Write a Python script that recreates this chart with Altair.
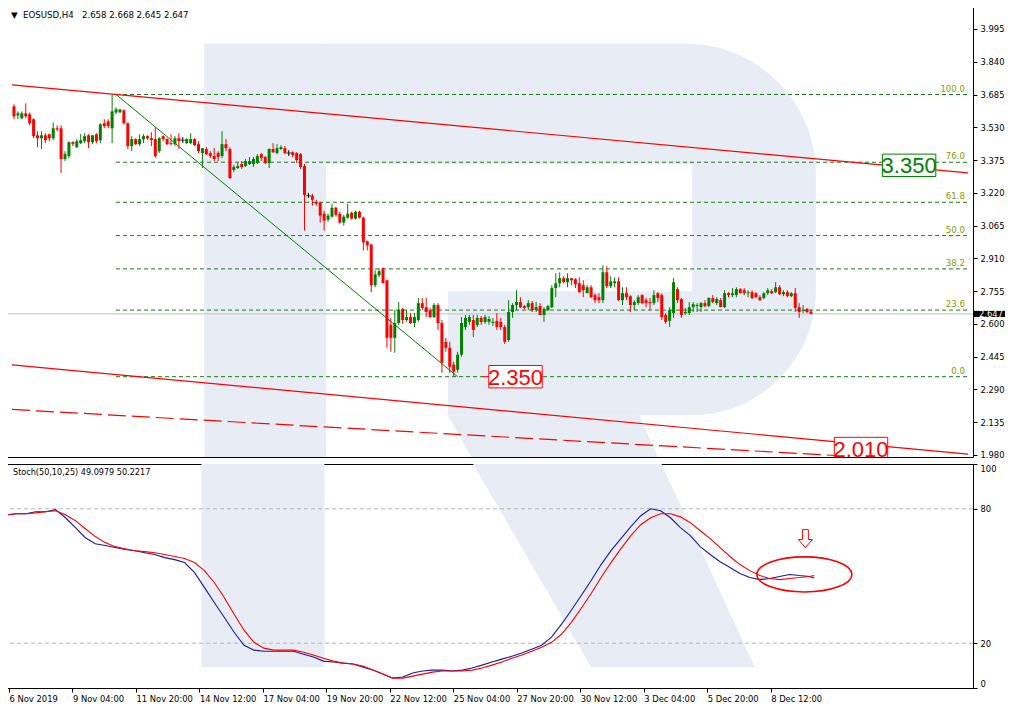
import json
import altair as alt
import pandas as pd

# ---------------- data ----------------
opens = [
    3.629, 3.586, 3.572, 3.596, 3.591, 3.568, 3.492, 3.478, 3.492, 3.497,
    3.478, 3.525, 3.525, 3.380, 3.394, 3.459, 3.436, 3.455, 3.464, 3.492,
    3.459, 3.497, 3.469, 3.549, 3.558, 3.525, 3.600, 3.600, 3.610, 3.549,
    3.441, 3.474, 3.450, 3.474, 3.488, 3.478, 3.474, 3.417, 3.488, 3.474,
    3.455, 3.450, 3.478, 3.469, 3.455, 3.455, 3.474, 3.450, 3.408, 3.427,
    3.408, 3.394, 3.408, 3.394, 3.450, 3.427, 3.328, 3.337, 3.356, 3.347,
    3.356, 3.356, 3.361, 3.403, 3.389, 3.361, 3.427, 3.408, 3.427, 3.431,
    3.408, 3.412, 3.408, 3.403, 3.347, 3.206, 3.206, 3.177, 3.173, 3.121,
    3.093, 3.107, 3.149, 3.121, 3.079, 3.102, 3.126, 3.098, 3.130, 3.102,
    2.990, 2.975, 2.783, 2.830, 2.862, 2.806, 2.595, 2.534, 2.604, 2.670,
    2.618, 2.632, 2.604, 2.618, 2.698, 2.679, 2.665, 2.632, 2.689, 2.604,
    2.515, 2.487, 2.407, 2.383, 2.454, 2.585, 2.609, 2.618, 2.595, 2.628,
    2.609, 2.609, 2.604, 2.614, 2.609, 2.585, 2.524, 2.656, 2.689, 2.703,
    2.684, 2.679, 2.698, 2.665, 2.684, 2.642, 2.665, 2.679, 2.769, 2.792,
    2.816, 2.797, 2.816, 2.811, 2.792, 2.783, 2.745, 2.773, 2.736, 2.726,
    2.712, 2.844, 2.778, 2.792, 2.801, 2.712, 2.745, 2.731, 2.689, 2.698,
    2.736, 2.712, 2.703, 2.698, 2.745, 2.736, 2.642, 2.614, 2.651, 2.764,
    2.717, 2.651, 2.651, 2.679, 2.684, 2.679, 2.698, 2.684, 2.722, 2.698,
    2.712, 2.679, 2.745, 2.736, 2.736, 2.764, 2.759, 2.745, 2.750, 2.745,
    2.726, 2.722, 2.745, 2.755, 2.750, 2.773, 2.740, 2.750, 2.731, 2.745,
    2.679, 2.661, 2.670, 2.658,
]
highs = [
    3.638, 3.605, 3.605, 3.643, 3.600, 3.572, 3.511, 3.511, 3.502, 3.497,
    3.553, 3.539, 3.539, 3.417, 3.464, 3.464, 3.474, 3.497, 3.502, 3.497,
    3.492, 3.502, 3.549, 3.568, 3.568, 3.685, 3.624, 3.615, 3.615, 3.553,
    3.488, 3.478, 3.497, 3.497, 3.492, 3.506, 3.530, 3.483, 3.492, 3.478,
    3.497, 3.488, 3.502, 3.483, 3.478, 3.502, 3.478, 3.464, 3.431, 3.436,
    3.417, 3.431, 3.417, 3.511, 3.474, 3.436, 3.351, 3.361, 3.370, 3.380,
    3.389, 3.389, 3.403, 3.408, 3.394, 3.431, 3.455, 3.450, 3.445, 3.441,
    3.422, 3.417, 3.412, 3.408, 3.356, 3.220, 3.215, 3.187, 3.177, 3.135,
    3.121, 3.168, 3.154, 3.130, 3.116, 3.168, 3.130, 3.135, 3.135, 3.107,
    2.994, 2.980, 2.853, 2.862, 2.867, 2.806, 2.628, 2.665, 2.703, 2.675,
    2.665, 2.651, 2.651, 2.722, 2.722, 2.722, 2.675, 2.698, 2.698, 2.618,
    2.534, 2.515, 2.421, 2.468, 2.632, 2.642, 2.642, 2.642, 2.642, 2.637,
    2.642, 2.637, 2.628, 2.651, 2.628, 2.595, 2.712, 2.698, 2.759, 2.726,
    2.689, 2.712, 2.708, 2.703, 2.698, 2.679, 2.689, 2.783, 2.839, 2.844,
    2.825, 2.839, 2.816, 2.816, 2.820, 2.806, 2.783, 2.783, 2.745, 2.745,
    2.877, 2.872, 2.825, 2.820, 2.820, 2.773, 2.773, 2.736, 2.712, 2.736,
    2.740, 2.722, 2.722, 2.759, 2.750, 2.745, 2.651, 2.679, 2.816, 2.773,
    2.722, 2.675, 2.703, 2.703, 2.698, 2.703, 2.712, 2.726, 2.736, 2.726,
    2.722, 2.759, 2.750, 2.769, 2.773, 2.769, 2.769, 2.759, 2.759, 2.750,
    2.736, 2.750, 2.769, 2.764, 2.797, 2.783, 2.759, 2.759, 2.750, 2.769,
    2.698, 2.689, 2.675, 2.668,
]
lows = [
    3.568, 3.568, 3.568, 3.572, 3.539, 3.478, 3.436, 3.427, 3.455, 3.464,
    3.469, 3.511, 3.314, 3.370, 3.384, 3.441, 3.431, 3.450, 3.455, 3.431,
    3.450, 3.455, 3.455, 3.525, 3.525, 3.455, 3.591, 3.600, 3.544, 3.427,
    3.417, 3.445, 3.441, 3.455, 3.469, 3.441, 3.384, 3.408, 3.464, 3.445,
    3.445, 3.441, 3.427, 3.455, 3.450, 3.450, 3.441, 3.408, 3.337, 3.398,
    3.384, 3.370, 3.370, 3.384, 3.417, 3.285, 3.318, 3.333, 3.333, 3.342,
    3.351, 3.342, 3.356, 3.370, 3.356, 3.337, 3.408, 3.403, 3.422, 3.403,
    3.394, 3.389, 3.361, 3.333, 3.041, 3.196, 3.159, 3.159, 3.079, 3.041,
    3.083, 3.102, 3.107, 3.074, 3.065, 3.098, 3.093, 3.093, 3.098, 2.947,
    2.947, 2.750, 2.773, 2.820, 2.792, 2.487, 2.468, 2.463, 2.595, 2.600,
    2.609, 2.600, 2.585, 2.609, 2.665, 2.632, 2.628, 2.628, 2.571, 2.369,
    2.468, 2.369, 2.350, 2.369, 2.444, 2.571, 2.595, 2.538, 2.585, 2.595,
    2.600, 2.595, 2.590, 2.571, 2.571, 2.505, 2.515, 2.628, 2.665, 2.675,
    2.670, 2.665, 2.656, 2.656, 2.642, 2.609, 2.661, 2.675, 2.726, 2.773,
    2.792, 2.773, 2.783, 2.769, 2.745, 2.726, 2.745, 2.722, 2.698, 2.698,
    2.698, 2.769, 2.769, 2.773, 2.708, 2.689, 2.712, 2.656, 2.665, 2.689,
    2.693, 2.679, 2.665, 2.689, 2.703, 2.618, 2.600, 2.585, 2.628, 2.698,
    2.628, 2.642, 2.642, 2.656, 2.656, 2.656, 2.679, 2.679, 2.698, 2.689,
    2.679, 2.675, 2.726, 2.726, 2.726, 2.745, 2.736, 2.726, 2.717, 2.722,
    2.708, 2.717, 2.736, 2.740, 2.745, 2.736, 2.731, 2.726, 2.726, 2.656,
    2.628, 2.651, 2.651, 2.645,
]
closes = [
    3.582, 3.596, 3.596, 3.582, 3.549, 3.488, 3.478, 3.492, 3.469, 3.478,
    3.525, 3.520, 3.380, 3.403, 3.459, 3.450, 3.464, 3.469, 3.488, 3.459,
    3.492, 3.464, 3.544, 3.535, 3.535, 3.605, 3.615, 3.615, 3.549, 3.441,
    3.474, 3.450, 3.474, 3.488, 3.478, 3.469, 3.394, 3.478, 3.474, 3.450,
    3.450, 3.478, 3.464, 3.469, 3.474, 3.474, 3.445, 3.417, 3.431, 3.403,
    3.394, 3.380, 3.389, 3.450, 3.431, 3.290, 3.342, 3.347, 3.342, 3.370,
    3.370, 3.380, 3.394, 3.384, 3.361, 3.427, 3.412, 3.431, 3.436, 3.408,
    3.408, 3.398, 3.375, 3.342, 3.210, 3.206, 3.187, 3.168, 3.112, 3.088,
    3.112, 3.149, 3.116, 3.079, 3.107, 3.121, 3.098, 3.130, 3.102, 2.985,
    2.971, 2.783, 2.834, 2.849, 2.792, 2.534, 2.534, 2.604, 2.665, 2.618,
    2.632, 2.604, 2.632, 2.698, 2.675, 2.656, 2.632, 2.689, 2.604, 2.416,
    2.487, 2.397, 2.374, 2.454, 2.604, 2.628, 2.632, 2.571, 2.628, 2.609,
    2.632, 2.623, 2.609, 2.585, 2.585, 2.515, 2.656, 2.689, 2.703, 2.679,
    2.675, 2.698, 2.665, 2.679, 2.642, 2.670, 2.684, 2.769, 2.792, 2.816,
    2.797, 2.816, 2.806, 2.787, 2.750, 2.759, 2.773, 2.726, 2.712, 2.712,
    2.844, 2.778, 2.801, 2.801, 2.712, 2.745, 2.726, 2.689, 2.703, 2.726,
    2.698, 2.698, 2.698, 2.736, 2.722, 2.632, 2.609, 2.665, 2.797, 2.712,
    2.642, 2.656, 2.679, 2.693, 2.689, 2.698, 2.684, 2.722, 2.703, 2.717,
    2.679, 2.745, 2.736, 2.745, 2.764, 2.745, 2.745, 2.750, 2.722, 2.726,
    2.712, 2.745, 2.759, 2.745, 2.773, 2.740, 2.750, 2.731, 2.745, 2.675,
    2.656, 2.665, 2.656, 2.647,
]

x_tick_bars = [0, 16, 32, 48, 64, 80, 96, 112, 128, 144, 160, 176, 192]
x_tick_labels = ["6 Nov 2019", "9 Nov 04:00", "11 Nov 20:00", "14 Nov 12:00",
                 "17 Nov 04:00", "19 Nov 20:00", "22 Nov 12:00", "25 Nov 04:00",
                 "27 Nov 20:00", "30 Nov 12:00", "3 Dec 04:00", "5 Dec 20:00",
                 "8 Dec 12:00"]
price_ticks = [3.995, 3.840, 3.685, 3.530, 3.375, 3.220, 3.065, 2.910,
               2.755, 2.600, 2.445, 2.290, 2.135, 1.980]
stoch_ticks = [0, 20, 80, 100]
stoch_levels = [20, 80]

fib_ratios = [100.0, 76.0, 61.8, 50.0, 38.2, 23.6, 0.0]
fib_high, fib_low = 3.685, 2.350
fib_start_bar, fib_end_bar = 26, 113

trend_bars = [-0.5, 243.0]
trend_upper = [3.731, 3.314]
trend_lower = [2.406, 1.984]
trend_dashed = [2.195, 1.942]

stoch_bars = [-0.5] + [1.75 + 2.5 * k for k in range(81)] + [203.0]
stoch_main = [
    77.3, 77.8, 77.8, 78.7, 78.7, 79.6, 76.0, 71.6, 67.1, 64.4,
    63.6, 62.7, 61.8, 61.3, 60.4, 59.6, 58.2, 57.3, 56.0, 51.6,
    44.9, 38.2, 31.6, 24.9, 19.1, 16.9, 16.4, 16.4, 16.4, 16.4,
    15.1, 13.8, 12.0, 11.6, 11.1, 10.7, 9.3, 8.0, 6.2, 4.4,
    4.9, 6.7, 7.6, 8.0, 8.0, 7.6, 8.0, 8.9, 10.2, 11.6,
    12.9, 14.2, 15.6, 17.3, 19.1, 22.7, 28.4, 34.7, 41.3, 48.0,
    55.1, 61.3, 66.7, 72.0, 76.9, 80.0, 79.1, 76.0, 71.6, 68.0,
    63.1, 59.6, 56.4, 53.8, 51.1, 49.3, 48.4, 48.9, 49.8, 50.7,
    50.2, 49.8, 49.1,
]
stoch_signal = [
    77.3, 77.8, 77.8, 78.2, 78.7, 79.1, 77.3, 74.7, 71.1, 67.6,
    64.9, 63.1, 62.2, 61.3, 60.9, 60.4, 59.6, 58.7, 57.8, 56.0,
    52.4, 47.1, 40.4, 32.9, 25.8, 20.4, 17.8, 16.9, 16.9, 16.9,
    16.0, 14.7, 13.3, 12.0, 11.1, 10.7, 9.8, 8.0, 6.2, 4.4,
    4.4, 5.3, 6.2, 7.1, 7.6, 7.6, 7.6, 8.0, 8.9, 10.2,
    11.6, 13.3, 14.7, 16.4, 18.2, 20.4, 24.0, 29.3, 35.6, 42.2,
    49.3, 56.0, 62.2, 68.0, 72.9, 76.0, 77.8, 77.8, 76.4, 73.8,
    70.2, 66.7, 62.7, 58.7, 55.1, 52.4, 50.2, 48.9, 48.4, 48.9,
    49.3, 49.8, 50.2,
]

label_texts = ["3.350", "2.350", "2.010"]
label_values = [3.350, 2.350, 2.010]
label_bars = [228.0, 127.75, 215.75]
label_colors = ["#008000", "#ff0000", "#ff0000"]

last_price = 2.647
title_main = "\u25bc\u00a0\u00a0EOSUSD,H4\u00a0\u00a0\u00a02.658 2.668 2.645 2.647"
title_stoch = "Stoch(50,10,25) 49.0979 50.2217"
ellipse_bar, ellipse_value = 200.5, 50.7
arrow_bar, arrow_value = 200.75, 66.7

# watermark logo pieces (bar, price) / (bar, stoch)
bowl_box = [48.5, 204.25, 3.925, 2.167]
stem_box = [48.5, 79.5, 3.925, 1.970]
hole_box = [79.5, 172.75, 3.356, 2.754]
gap_box = [79.5, 110.5, 2.754, 2.167]
leg_main_bars = [110.5, 116.5, 159.25, 164.0]
leg_main_top = [2.167, 2.167, 2.167, 1.970]
leg_main_bottom = [2.167, 1.970, 1.970, 1.970]
stoch_stem = [48.5, 79.5, 100.0, 9.3]
leg_bars = [117.0, 146.75, 164.5, 188.0]
leg_top = [100.0, 100.0, 100.0, 9.3]
leg_bottom = [100.0, 9.3, 9.3, 9.3]

# ---------------- styling ----------------
W, HM, HS = 966, 450, 224
FONT = "DejaVu Sans"
AXFS = 8.4
BIGFONT = "Liberation Sans Narrow, Liberation Sans"
GREEN, RED = "#008000", "#ff0000"
LOGO = "#e8edf5"
FIB = "#1a7a1a"
FIBTXT = "#8a9a00"

xsc = alt.Scale(domain=[-0.5, 243.0], nice=False, zero=False)
psc = alt.Scale(domain=[1.970, 4.099], nice=False, zero=False)
ssc = alt.Scale(domain=[0, 100], nice=False, zero=False)

p_axis = alt.Axis(orient="right", values=price_ticks, format=".3f", title=None,
                  grid=False, tickSize=4, labelPadding=3, domain=False)
s_axis = alt.Axis(orient="right", values=stoch_ticks, format="d", title=None,
                  grid=False, tickSize=4, labelPadding=3, domain=False,
                  labelFlush=True)
labels_js = json.dumps(x_tick_labels)
x_axis = alt.Axis(values=x_tick_bars, labelExpr=f"{labels_js}[round(datum.value / 16)]",
                  title=None, grid=False, tickSize=4, labelAlign="left",
                  labelPadding=2, domain=False, labelFlush=False)


def XM(field="bar"):
    return alt.X(f"{field}:Q", scale=xsc, axis=None)


def XS(field="bar"):
    return alt.X(f"{field}:Q", scale=xsc, axis=x_axis)


def P(field):
    return alt.Y(f"{field}:Q", scale=psc, axis=p_axis)


def S(field):
    return alt.Y(f"{field}:Q", scale=ssc, axis=s_axis)


def box_df(b):
    return pd.DataFrame({"x1": [b[0]], "x2": [b[1]], "y1": [b[2]], "y2": [b[3]]})


# ---------------- main panel ----------------
bowl = alt.Chart(box_df(bowl_box)).mark_rect(
    color=LOGO, cornerRadiusTopRight=130, cornerRadiusBottomRight=125, clip=True
).encode(x=XM("x1"), x2="x2:Q", y=P("y1"), y2="y2:Q")
stem = alt.Chart(box_df(stem_box)).mark_rect(color=LOGO, clip=True).encode(
    x=XM("x1"), x2="x2:Q", y=P("y1"), y2="y2:Q")
hole = alt.Chart(box_df(hole_box)).mark_rect(color="white", clip=True).encode(
    x=XM("x1"), x2="x2:Q", y=P("y1"), y2="y2:Q")
gap = alt.Chart(box_df(gap_box)).mark_rect(color="white", clip=True).encode(
    x=XM("x1"), x2="x2:Q", y=P("y1"), y2="y2:Q")
leg_main = alt.Chart(pd.DataFrame({"bar": leg_main_bars, "top": leg_main_top,
                                   "bottom": leg_main_bottom})
                     ).mark_area(color=LOGO, clip=True, opacity=1).encode(
    x=XM(), y=P("top"), y2="bottom:Q")

price_line = alt.Chart(pd.DataFrame({"price": [last_price]})).mark_rule(
    color="#c0c0c0", strokeWidth=1).encode(y=P("price"))

fdf = pd.DataFrame({"ratio": fib_ratios})
fdf["price"] = fib_low + fdf["ratio"] / 100.0 * (fib_high - fib_low)
fdf["x1"] = fib_start_bar
fdf["x2"] = 243.0
fdf["label"] = [f"{r:.1f}" for r in fib_ratios]
fib_lines = alt.Chart(fdf).mark_rule(color=FIB, strokeDash=[4, 3], strokeWidth=1).encode(
    x=XM("x1"), x2="x2:Q", y=P("price"))
fib_text = alt.Chart(fdf).mark_text(align="right", baseline="bottom", dx=-3, dy=-1,
                                    font=FONT, fontSize=8.6, color=FIBTXT).encode(
    x=XM("x2"), y=P("price"), text="label:N")
diag = alt.Chart(pd.DataFrame({"bar": [fib_start_bar, fib_end_bar], "price": [fib_high, fib_low]})
                 ).mark_line(color=GREEN, strokeWidth=1).encode(x=XM(), y=P("price"))

tdf = pd.DataFrame({"bar": trend_bars * 2, "price": trend_upper + trend_lower,
                    "line": ["u", "u", "l", "l"]})
trend_solid = alt.Chart(tdf).mark_line(color=RED, strokeWidth=1.2, clip=True).encode(
    x=XM(), y=P("price"), detail="line:N")
trend_dash = alt.Chart(pd.DataFrame({"bar": trend_bars, "price": trend_dashed})).mark_line(
    color=RED, strokeWidth=1.2, strokeDash=[18, 6], clip=True).encode(x=XM(), y=P("price"))

cdf = pd.DataFrame({"bar": list(range(len(opens))), "open": opens, "high": highs,
                    "low": lows, "close": closes})
cdf["col"] = [GREEN if c > o else (RED if c < o else "#000000") for o, c in zip(opens, closes)]
cdf["doji"] = [o == c for o, c in zip(opens, closes)]
wicks = alt.Chart(cdf).mark_rule(strokeWidth=1).encode(
    x=XM(), y=P("low"), y2="high:Q", color=alt.Color("col:N", scale=None))
bodies = alt.Chart(cdf).transform_filter("!datum.doji").mark_bar(size=3).encode(
    x=XM(), y=P("open"), y2="close:Q", color=alt.Color("col:N", scale=None))
dojis = alt.Chart(cdf).transform_filter("datum.doji").mark_tick(
    orient="horizontal", size=5, thickness=1, color="black").encode(x=XM(), y=P("open"))

ldf = pd.DataFrame({"text": label_texts, "price": label_values, "bar": label_bars,
                    "col": label_colors})
ldf["x1"] = ldf["bar"] - 6.8
ldf["x2"] = ldf["bar"] + 6.8
ldf["y1"] = ldf["price"] - 0.053
ldf["y2"] = ldf["price"] + 0.053
pointer = alt.Chart(ldf.iloc[[1]]).mark_rule(color=RED, strokeWidth=1).encode(
    x=alt.X("p1:Q", scale=xsc, axis=None), x2="x1:Q", y=P("price")
).transform_calculate(p1="datum.x1 - 1.6")
boxes = alt.Chart(ldf).mark_rect(fill="white", strokeWidth=1, clip=True).encode(
    x=XM("x1"), x2="x2:Q", y=P("y1"), y2="y2:Q", stroke=alt.Stroke("col:N", scale=None))
box_text = alt.Chart(ldf).mark_text(font=BIGFONT, fontSize=22, align="center",
                                    baseline="middle", clip=True, dy=1).encode(
    x=XM("bar"), y=P("price"), text="text:N", color=alt.Color("col:N", scale=None))

cur_box = alt.Chart(pd.DataFrame({"price": [last_price]})).mark_rect(color="black").encode(
    x=alt.value(W + 1), x2=alt.value(W + 32), y=P("y1"), y2="y2:Q"
).transform_calculate(y1="datum.price - 0.0145", y2="datum.price + 0.0145")
cur_text = alt.Chart(pd.DataFrame({"price": [last_price], "t": ["2.647"]})).mark_text(
    color="white", align="left", baseline="middle", font=FONT, fontSize=AXFS).encode(
    x=alt.value(W + 6), y=P("price"), text="t:N")

main_title = alt.Chart(pd.DataFrame({"t": [title_main]})).mark_text(
    align="left", baseline="middle", font=FONT, fontSize=8.6, color="black").encode(
    x=alt.value(4), y=alt.value(8), text="t:N")

main = alt.layer(
    bowl, stem, leg_main, hole, gap, price_line, fib_lines, fib_text, diag,
    trend_solid, trend_dash, wicks, bodies, dojis, pointer, boxes, box_text,
    cur_box, cur_text, main_title,
).properties(width=W, height=HM)

# ---------------- stochastic panel ----------------
stem_s = alt.Chart(box_df(stoch_stem)).mark_rect(color=LOGO, clip=True).encode(
    x=XS("x1"), x2="x2:Q", y=S("y1"), y2="y2:Q")
leg_s = alt.Chart(pd.DataFrame({"bar": leg_bars, "top": leg_top, "bottom": leg_bottom})
                  ).mark_area(color=LOGO, clip=True, opacity=1).encode(
    x=XS(), y=S("top"), y2="bottom:Q")
levels = alt.Chart(pd.DataFrame({"v": stoch_levels})).mark_rule(
    color="#b4b4b4", strokeDash=[4, 3], strokeWidth=1).encode(y=S("v"))
sdf = pd.DataFrame({"bar": stoch_bars, "main": stoch_main, "signal": stoch_signal})
blue = alt.Chart(sdf).mark_line(color="#1a1a9c", strokeWidth=1.1).encode(x=XS(), y=S("main"))
red = alt.Chart(sdf).mark_line(color=RED, strokeWidth=1.1).encode(x=XS(), y=S("signal"))
ellipse_path = ("M -1 0 C -1 -0.2043 -0.5523 -0.37 0 -0.37 C 0.5523 -0.37 1 -0.2043 1 0 "
                "C 1 0.2043 0.5523 0.37 0 0.37 C -0.5523 0.37 -1 0.2043 -1 0 Z")
ellipse = alt.Chart(pd.DataFrame({"bar": [ellipse_bar], "v": [ellipse_value]})).mark_point(
    shape=ellipse_path, size=9025, filled=False, color=RED, strokeWidth=1.6, opacity=1).encode(
    x=XS(), y=S("v"))
arrow_path = "M -0.33 -1 L 0.33 -1 L 0.33 0.1 L 0.78 0.1 L 0 1 L -0.78 0.1 L -0.33 0.1 Z"
arrow = alt.Chart(pd.DataFrame({"bar": [arrow_bar], "v": [arrow_value]})).mark_point(
    shape=arrow_path, size=324, filled=False, color=RED, strokeWidth=1, opacity=1).encode(
    x=XS(), y=S("v"))
stoch_title = alt.Chart(pd.DataFrame({"t": [title_stoch]})).mark_text(
    align="left", baseline="middle", font=FONT, fontSize=8.1, color="black").encode(
    x=alt.value(6), y=alt.value(9), text="t:N")

stoch = alt.layer(stem_s, leg_s, levels, blue, red, ellipse, arrow, stoch_title).properties(
    width=W, height=HS)

chart = alt.vconcat(main, stoch, spacing=3).properties(
    padding={"left": -4, "top": -2, "right": 0, "bottom": 0}
).configure_view(
    stroke="black", strokeWidth=1
).configure_axis(
    labelFont=FONT, labelFontSize=AXFS, labelColor="black", tickColor="black", domainColor="black"
)

chart.save("out.html", embed_options={"renderer": "svg", "actions": False})
